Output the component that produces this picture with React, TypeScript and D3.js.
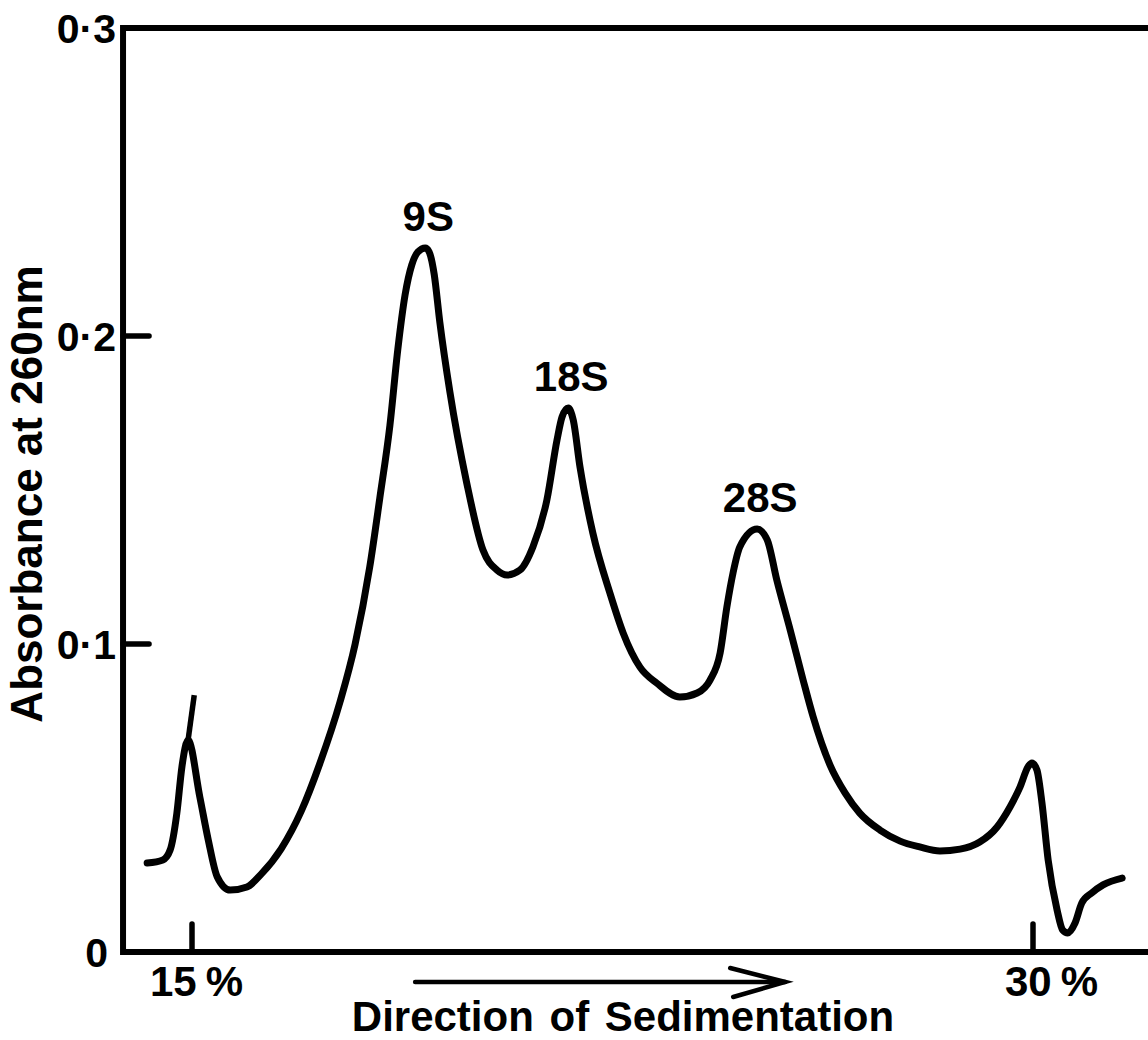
import React from "react";
import * as d3 from "d3";

// Sucrose gradient position (%) and absorbance at 260 nm along the profile
const gradientPct = [
  14.2, 14.48, 14.61, 14.73, 14.82, 14.93, 15.14, 15.29, 15.45, 15.68, 15.98,
  16.23, 16.59, 16.95, 17.28, 17.64, 17.91, 18.17, 18.35, 18.53, 18.67, 18.8,
  18.92, 19.03, 19.16, 19.23, 19.32, 19.42, 19.6, 19.9, 20.19, 20.44, 20.62,
  20.85, 21.08, 21.33, 21.51, 21.6, 21.71, 21.8, 21.92, 22.15, 22.46, 22.69,
  22.99, 23.29, 23.7, 24.01, 24.24, 24.42, 24.54, 24.65, 24.77, 25.08, 25.26,
  25.43, 25.67, 25.9, 26.08, 26.38, 26.65, 26.91, 27.27, 27.63, 27.98, 28.34,
  28.7, 29.05, 29.36, 29.59, 29.77, 29.91, 29.98, 30.07, 30.16, 30.27, 30.43,
  30.53, 30.62, 30.75, 30.87, 31.05, 31.25, 31.59,
];
const absorbance = [
  0.0289, 0.0299, 0.0331, 0.0451, 0.0601, 0.0688, 0.0503, 0.0364, 0.0244,
  0.0201, 0.0211, 0.0252, 0.0335, 0.0458, 0.0612, 0.0812, 0.1, 0.125, 0.1474,
  0.171, 0.1955, 0.2133, 0.2231, 0.2273, 0.2286, 0.2273, 0.22, 0.2045,
  0.1818, 0.1523, 0.1305, 0.124, 0.1224, 0.124, 0.1315, 0.1468, 0.1662,
  0.1737, 0.1766, 0.1727, 0.1575, 0.136, 0.1162, 0.1036, 0.0925, 0.0873,
  0.0828, 0.0841, 0.0883, 0.0971, 0.112, 0.1231, 0.1315, 0.1373, 0.1338,
  0.1208, 0.1045, 0.0883, 0.0763, 0.0607, 0.0516, 0.0451, 0.0396, 0.036,
  0.0341, 0.0328, 0.0334, 0.0357, 0.0406, 0.0471, 0.0536, 0.0601, 0.0614,
  0.0591, 0.0484, 0.0299, 0.0136, 0.0071, 0.0062, 0.0094, 0.0159, 0.0192,
  0.0218, 0.024,
];

// Pen overshoot at the meniscus peak
const spikePct = [14.93, 15.04];
const spikeAbs = [0.0688, 0.0834];

// Peak labels
const peakNames = ["9S", "18S", "28S"];
const peakPct = [19.16, 21.71, 25.08];
const peakAbs = [0.2286, 0.1766, 0.1373];

// Axis ticks
const yTicks = [0, 0.1, 0.2, 0.3];
const yTickLabels = ["0", "0·1", "0·2", "0·3"];
const xTicks = [15, 30];
const xTickNumbers = ["15", "30"];

// Sedimentation arrow extent (gradient %)
const arrowFrom = 18.98;
const arrowTo = 25.58;

const xMin = 13.77;
const xMax = 32.1;

export default function App() {
  const x = d3.scaleLinear().domain([15, 30]).range([192, 1033]);
  const y = d3.scaleLinear().domain([0, 0.3]).range([952, 28]);

  const pts: [number, number][] = gradientPct.map((g, i) => [g, absorbance[i]]);
  const line = d3
    .line<[number, number]>()
    .x((d) => x(d[0]))
    .y((d) => y(d[1]))
    .curve(d3.curveMonotoneX);
  const spike = d3
    .line<[number, number]>()
    .x((d) => x(d[0]))
    .y((d) => y(d[1]));

  const font = "'Liberation Sans', Arial, Helvetica, sans-serif";
  const x0 = x(xMin);
  const x1 = x(xMax);
  const yTop = y(0.3);
  const yBot = y(0);
  const ax = x(arrowFrom);
  const bx = x(arrowTo);
  const ay = 982;

  return (
    <svg
      width={1148}
      height={1040}
      style={{ position: "absolute", left: 0, top: 0, background: "#fff" }}
      fontFamily={font}
      fontWeight="bold"
    >
      <rect x={0} y={0} width={1148} height={1040} fill="#fff" />
      {/* frame */}
      <path
        d={`M${x1},${yTop} L${x0},${yTop} L${x0},${yBot} L${x1},${yBot}`}
        fill="none"
        stroke="#000"
        strokeWidth={6}
        strokeLinejoin="miter"
      />
      {/* y ticks (inward) */}
      {yTicks.slice(1, 3).map((t) => (
        <line
          key={"yt" + t}
          x1={x0}
          x2={x0 + 26}
          y1={y(t)}
          y2={y(t)}
          stroke="#000"
          strokeWidth={5.5}
          strokeLinecap="round"
        />
      ))}
      {yTicks.map((t, i) => (
        <text
          key={"yl" + t}
          x={t === 0 ? x0 - 15 : x0 - 7}
          y={y(t)}
          dy="0.36em"
          textAnchor="end"
          fontSize={41}
        >
          {yTickLabels[i]}
        </text>
      ))}
      {/* x ticks (inward) */}
      {xTicks.map((t, i) => (
        <g key={"xt" + t}>
          <line
            x1={x(t)}
            x2={x(t)}
            y1={yBot}
            y2={yBot - 28}
            stroke="#000"
            strokeWidth={5.5}
            strokeLinecap="round"
          />
          <text x={x(t) + (i === 0 ? -42 : -28)} y={996} fontSize={42}>
            {xTickNumbers[i]}
            <tspan dx={9}>%</tspan>
          </text>
        </g>
      ))}
      {/* y axis title */}
      <text
        transform={`translate(42, 494) rotate(-90)`}
        textAnchor="middle"
        fontSize={44}
      >
        Absorbance at 260nm
      </text>
      {/* sedimentation arrow */}
      <line x1={ax} x2={bx} y1={ay} y2={ay} stroke="#000" strokeWidth={4.5} strokeLinecap="round" />
      <path
        d={`M${bx - 55},${ay - 14} L${bx},${ay} L${bx - 52},${ay + 15}`}
        fill="none"
        stroke="#000"
        strokeWidth={4.5}
        strokeLinecap="round"
        strokeLinejoin="miter"
      />
      <text x={623} y={1031} textAnchor="middle" fontSize={42} wordSpacing={4}>
        Direction of Sedimentation
      </text>
      {/* absorbance profile */}
      <path
        d={line(pts) || ""}
        fill="none"
        stroke="#000"
        strokeWidth={7}
        strokeLinecap="round"
        strokeLinejoin="round"
      />
      <path
        d={spike(spikePct.map((g, i) => [g, spikeAbs[i]] as [number, number])) || ""}
        fill="none"
        stroke="#000"
        strokeWidth={5.5}
        strokeLinecap="butt"
      />
      {peakNames.map((n, i) => (
        <text
          key={n}
          x={x(peakPct[i]) + 3}
          y={y(peakAbs[i]) - 17}
          textAnchor="middle"
          fontSize={42}
        >
          {n}
        </text>
      ))}
    </svg>
  );
}
